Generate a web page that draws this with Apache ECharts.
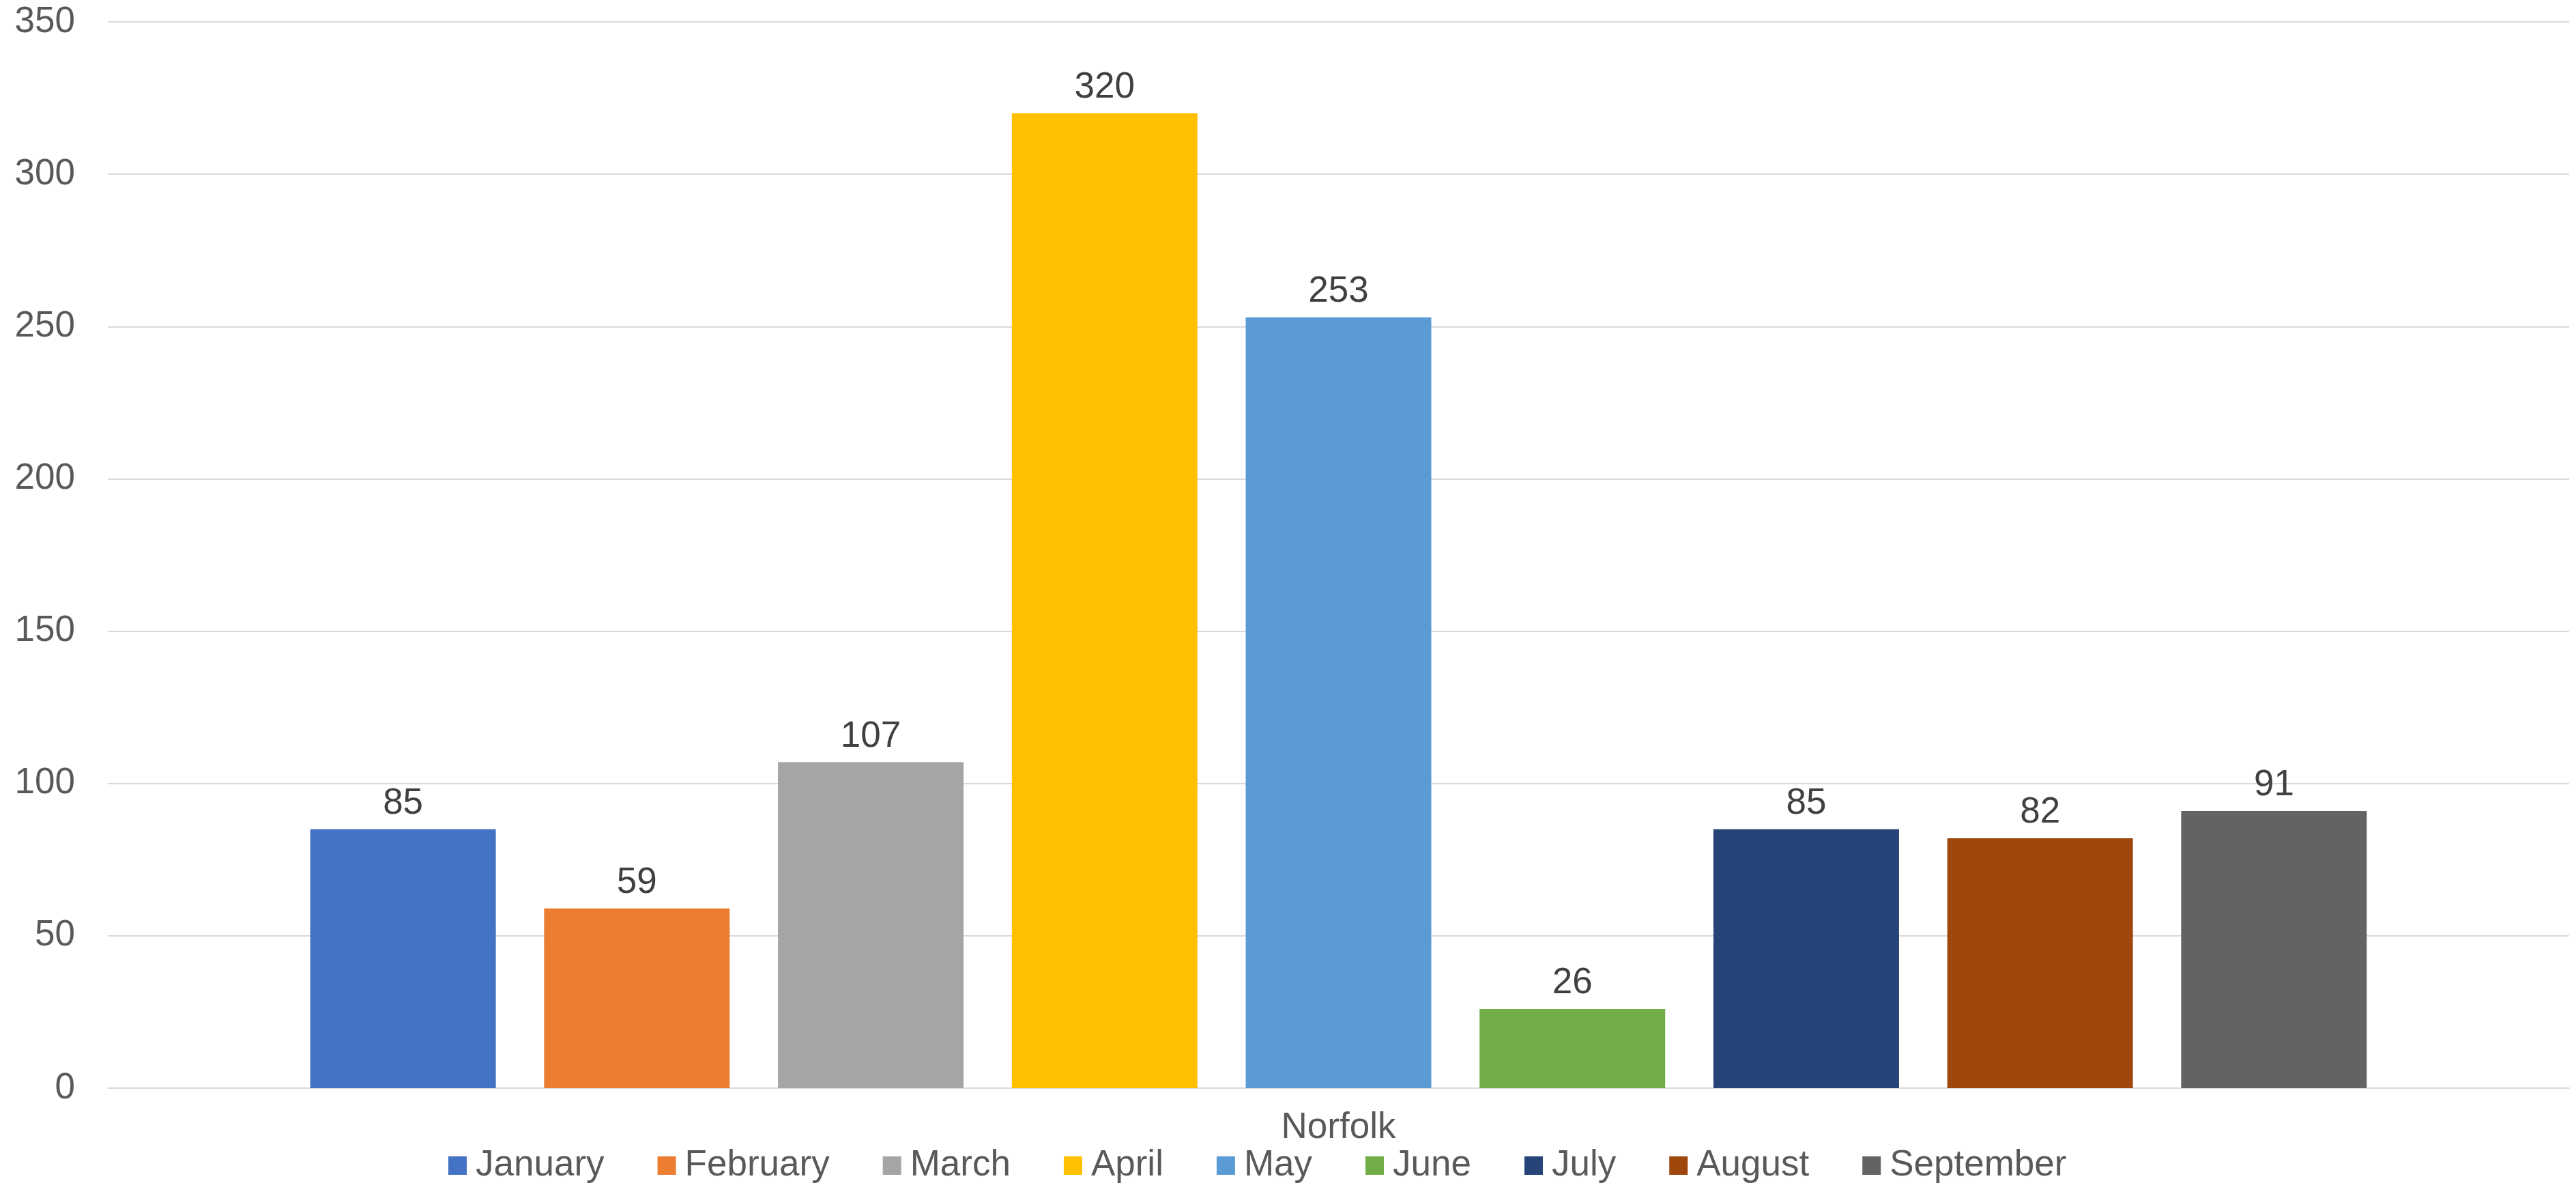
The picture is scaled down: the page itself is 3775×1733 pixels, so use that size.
<!DOCTYPE html>
<html>
<head>
<meta charset="utf-8">
<script src="https://cdn.jsdelivr.net/npm/echarts@6/dist/echarts.min.js"></script>
<style>
html,body{margin:0;padding:0;background:#fff;}
#c{width:3775px;height:1733px;}
</style>
</head>
<body>
<div id="c"></div>
<script>
const categories = ['Norfolk'];
const months = ['January','February','March','April','May','June','July','August','September'];
const values = [85, 59, 107, 320, 253, 26, 85, 82, 91];
const colors = ['#4472C4','#ED7D31','#A5A5A5','#FFC000','#5B9BD5','#70AD47','#264478','#9E480E','#636363'];
const yTicks = {min: 0, max: 350, interval: 50};

const font = 'Liberation Sans, Arial, sans-serif';
const chart = echarts.init(document.getElementById('c'), null, {renderer: 'canvas'});

const series = months.map((m, i) => ({
  name: m,
  type: 'bar',
  data: [values[i]],
  barWidth: 272,
  barGap: '26%',
  itemStyle: {color: colors[i]},
  label: {
    show: true,
    position: 'top',
    distance: 11,
    color: '#404040',
    fontSize: 53,
    fontFamily: font
  }
}));

chart.setOption({
  animation: false,
  backgroundColor: '#ffffff',
  color: colors,
  grid: {left: 158, right: 10, top: 32, bottom: 139, containLabel: false},
  legend: {
    data: months,
    left: 657,
    top: 1681,
    padding: 0,
    icon: 'rect',
    itemWidth: 27,
    itemHeight: 27,
    itemGap: 78,
    textStyle: {fontSize: 53, color: '#595959', fontFamily: font, padding: [0,0,0,8]}
  },
  xAxis: {
    type: 'category',
    data: categories,
    axisTick: {show: false},
    axisLine: {lineStyle: {color: '#D9D9D9', width: 2}},
    axisLabel: {fontSize: 53, color: '#595959', fontFamily: font, margin: 32}
  },
  yAxis: {
    type: 'value',
    min: yTicks.min,
    max: yTicks.max,
    interval: yTicks.interval,
    axisLine: {show: false},
    axisTick: {show: false},
    splitLine: {lineStyle: {color: '#D9D9D9', width: 2}},
    axisLabel: {fontSize: 53, color: '#595959', fontFamily: font, margin: 48}
  },
  series: series
});
</script>
</body>
</html>
